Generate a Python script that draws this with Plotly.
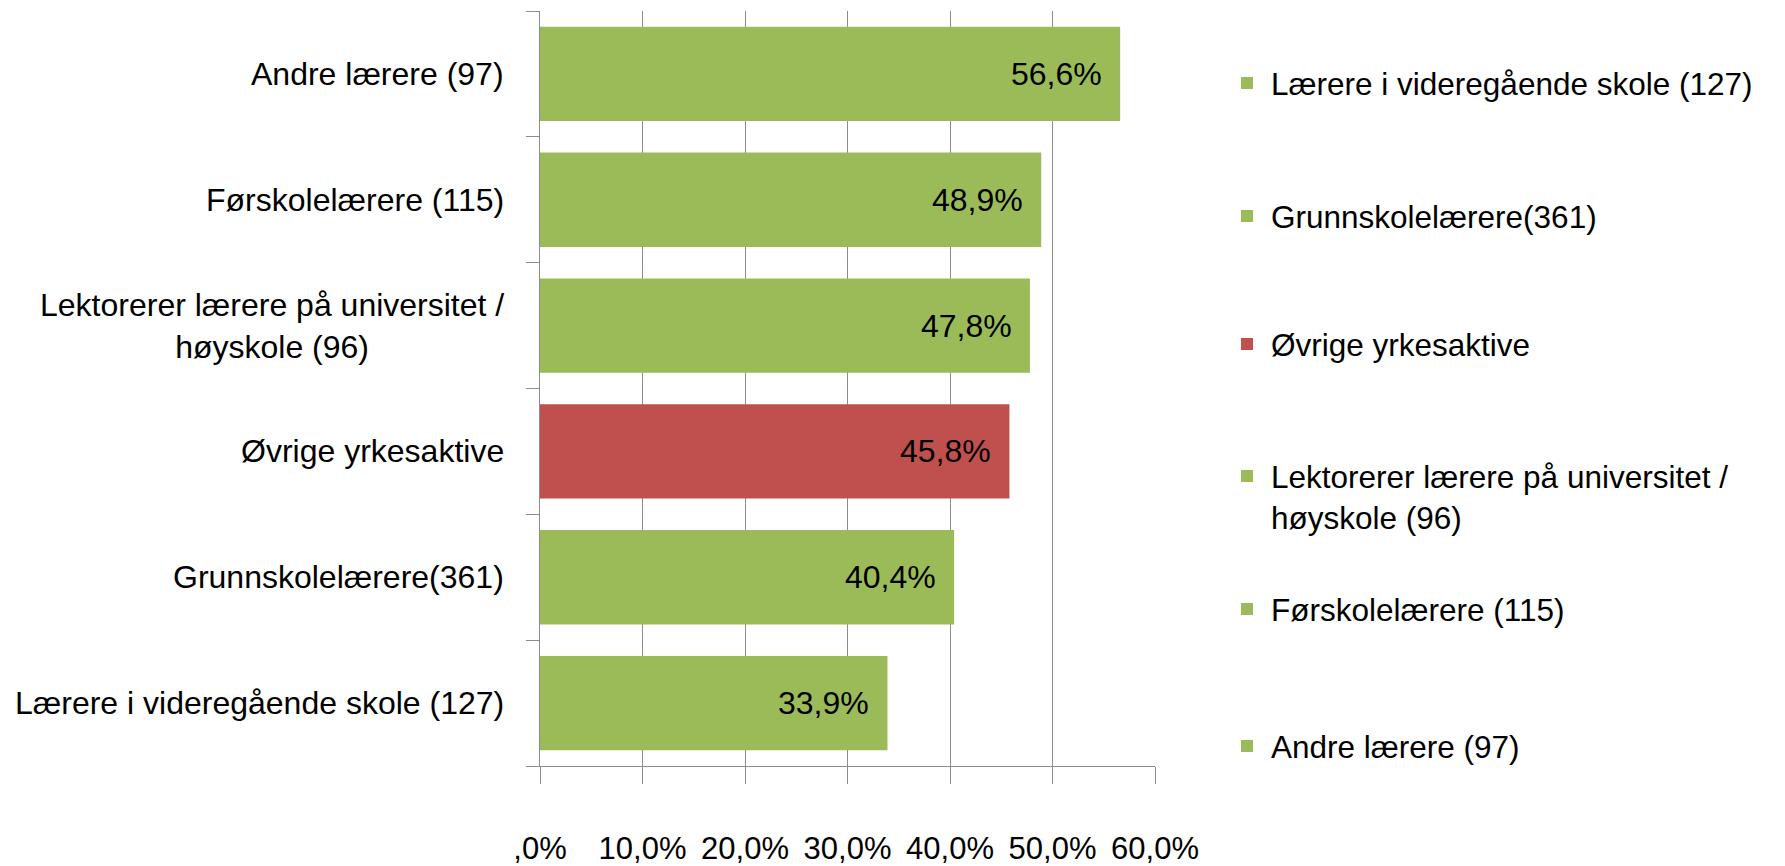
import plotly.graph_objects as go

# Data (bottom -> top on the y axis, same order as legend top -> bottom)
categories = [
    "Lærere i videregående skole (127)",
    "Grunnskolelærere(361)",
    "Øvrige yrkesaktive",
    "Lektorerer lærere på universitet /<br>høyskole (96)",
    "Førskolelærere (115)",
    "Andre lærere (97)",
]
values = [33.9, 40.4, 45.8, 47.8, 48.9, 56.6]
value_labels = ["33,9%", "40,4%", "45,8%", "47,8%", "48,9%", "56,6%"]
colors = ["#9BBB59", "#9BBB59", "#C0504D", "#9BBB59", "#9BBB59", "#9BBB59"]
tick_vals = [0, 10, 20, 30, 40, 50, 60]
tick_text = [",0%", "10,0%", "20,0%", "30,0%", "40,0%", "50,0%", "60,0%"]

FONT = "Liberation Sans, Arial, sans-serif"
FS = 32
GRID = "#8C8C8C"

# the page body adds an 8px offset, so the figure is sized to fit
W, H = 1777, 858
L, R, T, B = 532, 630, 3, 100
plot_w = W - L - R
plot_h = H - T - B

# legend item centres (figure pixels from top)
legend_px = [75, 208, 336, 465, 601, 738]

fig = go.Figure()
for i, (cat, v, c) in enumerate(zip(categories, values, colors)):
    lg = "legend" if i == 0 else f"legend{i+1}"
    fig.add_trace(go.Bar(
        x=[v], y=[cat], orientation="h", name=cat,
        marker=dict(color=c, line=dict(width=0)),
        legend=lg, showlegend=True, hoverinfo="skip",
    ))

# value labels inside bar ends
for cat, v, t in zip(categories, values, value_labels):
    fig.add_annotation(x=v, y=cat, xref="x", yref="y", text=t, showarrow=False,
                       xanchor="right", yanchor="middle", xshift=-16,
                       font=dict(family=FONT, size=FS, color="#000000"))

# category labels (centred multi-line)
for cat in categories:
    fig.add_annotation(x=0, y=cat, xref="paper", yref="y", text=cat, showarrow=False,
                       xanchor="right", yanchor="middle", xshift=-34, align="center",
                       font=dict(family=FONT, size=FS, color="#000000"))

layout_legends = {}
for i, ypx in enumerate(legend_px):
    key = "legend" if i == 0 else f"legend{i+1}"
    layout_legends[key] = dict(
        x=(1215 - L) / plot_w, xanchor="left",
        y=(H - B - ypx) / plot_h, yanchor="middle",
        valign="top", itemwidth=38,
        font=dict(family=FONT, size=31.5, color="#000000"),
        bgcolor="rgba(0,0,0,0)", borderwidth=0,
        tracegroupgap=0, itemclick=False,
    )
    if i == 3:
        layout_legends[key]["yanchor"] = "top"
        layout_legends[key]["y"] = (H - B - (ypx - 24)) / plot_h

fig.update_layout(
    width=W, height=H,
    margin=dict(l=L, r=R, t=T, b=B, pad=0, autoexpand=False),
    paper_bgcolor="white", plot_bgcolor="white",
    barmode="overlay", bargap=0.25,
    font=dict(family=FONT, size=FS, color="#000000"),
    xaxis=dict(
        range=[0, 60], tickvals=tick_vals, ticktext=tick_text, tickangle=0,
        showgrid=True, gridcolor=GRID, gridwidth=1.3,
        showline=True, linecolor=GRID, linewidth=1.3,
        ticks="outside", ticklen=17, tickcolor=GRID, tickwidth=1.3,
        ticklabelstandoff=38, zeroline=False, automargin=False,
        tickfont=dict(family=FONT, size=31, color="#000000"),
        fixedrange=True,
    ),
    yaxis=dict(
        categoryorder="array", categoryarray=categories,
        showticklabels=False, showgrid=False,
        showline=True, linecolor=GRID, linewidth=1.3,
        ticks="outside", ticklen=13, tickcolor=GRID, tickwidth=1.3,
        tickson="boundaries", zeroline=False, fixedrange=True, automargin=False,
    ),
    **layout_legends,
)

fig.write_html("out.html", config={"displayModeBar": False})
